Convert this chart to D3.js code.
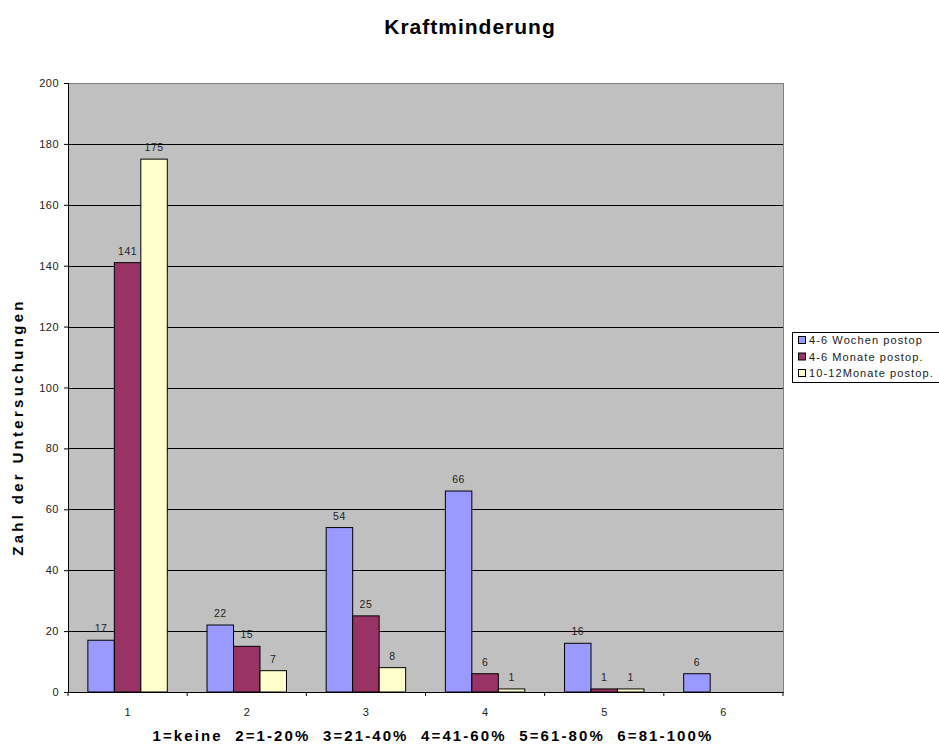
<!DOCTYPE html>
<html><head><meta charset="utf-8">
<script src="https://cdn.jsdelivr.net/npm/d3@7"></script>
<style>body{margin:0;background:#fff}svg{display:block;font-family:"Liberation Sans",Arial,sans-serif}</style>
</head><body>
<script>
const categories = ["1","2","3","4","5","6"];
const seriesNames = ["4-6 Wochen postop","4-6 Monate postop.","10-12Monate postop."];
const wochen = [17,22,54,66,16,6];
const monate = [141,15,25,6,1,null];
const zehnZwoelf = [175,7,8,1,1,null];
const yTicks = [0,20,40,60,80,100,120,140,160,180,200];
const colors = ["#9999FF","#993366","#FFFFCC"];
const seriesValues = [wochen, monate, zehnZwoelf];

const W=939,H=744;
const m={l:68,r:783,t:83,b:692};
const svg=d3.select("body").append("svg").attr("width",W).attr("height",H);

const x=d3.scaleBand().domain(categories).range([m.l,m.r]).paddingInner(0).paddingOuter(0);
const inner=d3.scaleBand().domain(d3.range(3)).range([0,x.bandwidth()]).paddingInner(0).paddingOuter(0.75);
const y=d3.scaleLinear().domain([0,200]).range([m.b,m.t]);

svg.append("rect").attr("x",m.l).attr("y",m.t).attr("width",m.r-m.l).attr("height",m.b-m.t).attr("fill","#C0C0C0");
svg.append("line").attr("x1",m.l).attr("x2",m.r).attr("y1",m.t+0.5).attr("y2",m.t+0.5).attr("stroke","#808080");
svg.append("line").attr("x1",m.r+0.5).attr("x2",m.r+0.5).attr("y1",m.t).attr("y2",m.b).attr("stroke","#808080");

svg.append("g").selectAll("line").data(yTicks.filter(d=>d>0&&d<200)).join("line")
  .attr("x1",m.l).attr("x2",m.r).attr("y1",d=>Math.round(y(d))+0.5).attr("y2",d=>Math.round(y(d))+0.5)
  .attr("stroke","#000").attr("stroke-width",1);

const groups=svg.append("g").selectAll("g").data(categories).join("g")
  .attr("transform",d=>`translate(${x(d)},0)`);
groups.each(function(c,ci){
  const g=d3.select(this);
  seriesValues.forEach((vals,si)=>{
    const v=vals[ci];
    if(v==null) return;
    g.append("rect").attr("x",inner(si)).attr("width",inner.bandwidth())
      .attr("y",y(v)).attr("height",y(0)-y(v))
      .attr("fill",colors[si]).attr("stroke","#000").attr("stroke-width",1);
    g.append("text").attr("x",inner(si)+inner.bandwidth()/2).attr("y",y(v)-8)
      .attr("text-anchor","middle").attr("font-size",10.5).attr("letter-spacing",0.5).attr("fill","#222").text(v);
  });
});

// y axis
const ya=svg.append("g").attr("transform",`translate(${m.l},0)`)
  .call(d3.axisLeft(y).tickValues(yTicks).tickSize(4).tickPadding(5));
ya.select(".domain").attr("stroke","#000");
ya.selectAll("text").attr("font-size",11).attr("letter-spacing",0.5).attr("font-family","Liberation Sans, Arial").attr("fill","#222");
// x axis
const xa=svg.append("g").attr("transform",`translate(0,${m.b})`)
  .call(d3.axisBottom(x).tickSize(0).tickPadding(16));
xa.select(".domain").attr("stroke","#000");
xa.selectAll("text").attr("font-size",11).attr("font-family","Liberation Sans, Arial").attr("fill","#222");
svg.append("g").selectAll("line").data(d3.range(categories.length+1)).join("line")
  .attr("x1",i=>m.l+i*x.bandwidth()).attr("x2",i=>m.l+i*x.bandwidth())
  .attr("y1",m.b).attr("y2",m.b+4).attr("stroke","#000");

svg.append("text").attr("x",470).attr("y",34).attr("text-anchor","middle")
  .attr("font-size",21).attr("letter-spacing",1).attr("font-weight","bold").text("Kraftminderung");
svg.append("text").attr("transform","translate(23,427) rotate(-90)").attr("text-anchor","middle")
  .attr("font-size",15).attr("letter-spacing",3.3).attr("font-weight","bold").text("Zahl der Untersuchungen");
svg.append("text").attr("x",433).attr("y",741).attr("text-anchor","middle")
  .attr("font-size",15).attr("letter-spacing",2.1).attr("font-weight","bold").attr("xml:space","preserve")
  .text("1=keine  2=1-20%  3=21-40%  4=41-60%  5=61-80%  6=81-100%");

// legend
const lg=svg.append("g").attr("transform","translate(792,332)");
lg.append("rect").attr("x",0.5).attr("y",0.5).attr("width",160).attr("height",50).attr("fill","#fff").attr("stroke","#000");
seriesNames.forEach((n,i)=>{
  lg.append("rect").attr("x",6.5).attr("y",4.5+i*16.5).attr("width",7).attr("height",7).attr("fill",colors[i]).attr("stroke","#000");
  lg.append("text").attr("x",17).attr("y",12+i*16.5).attr("font-size",11).attr("letter-spacing",1.1).attr("fill","#222").text(n);
});
</script>
</body></html>
